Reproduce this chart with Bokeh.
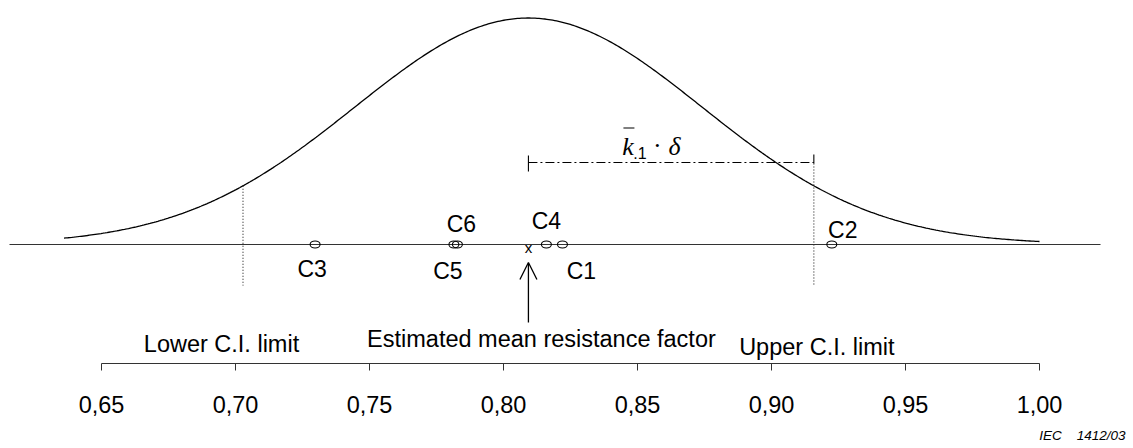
import numpy as np
from bokeh.plotting import figure
from bokeh.models import (Range1d, FixedTicker, CustomJSTickFormatter, Arrow,
                          OpenHead, Title, ColumnDataSource)
from bokeh.core.properties import value
from bokeh.embed import file_html
from bokeh.resources import INLINE

# ---------------- data ----------------
specimens = ["C1", "C2", "C3", "C4", "C5", "C6"]
resistance_factors = [0.822, 0.9225, 0.7297, 0.816, 0.7815, 0.7828]
mean_factor = 0.8093
ci_lower = 0.7028
ci_upper = 0.9158
sigma = 0.0648
curve_start = 0.636
curve_end = 1.0
tick_values = [0.65, 0.70, 0.75, 0.80, 0.85, 0.90, 0.95, 1.00]

# ---------------- layout constants (pixels) ----------------
PX = 1.0 / 2680.0          # data units per pixel along x
PEAK = 226.5               # curve peak height above the base line, px
label_dx = [19, 11, -3, 0, -6, 4]
label_dy = [-26, 15, -24, 24, -26, 20.5]

FONT = value("Liberation Sans")
SERIF = value("Liberation Serif")

p = figure(frame_width=1133, frame_height=363, min_border=0,
           x_range=Range1d(0.65 - 101 * PX, 0.65 + 1032 * PX),
           y_range=Range1d(-119, 244),
           y_axis_location=None, title_location=None,
           toolbar_location=None, output_backend="svg")
p.grid.visible = False
p.outline_line_color = None
p.background_fill_color = "white"
p.border_fill_color = "white"

# axis
ax = p.xaxis[0]
ax.ticker = FixedTicker(ticks=tick_values, minor_ticks=[])
ax.formatter = CustomJSTickFormatter(code="return tick.toFixed(2).replace('.', ',');")
ax.bounds = (tick_values[0], tick_values[-1])
ax.axis_line_color = "#333333"
ax.axis_line_width = 1.2
ax.major_tick_line_color = "#333333"
ax.major_tick_in = 0
ax.major_tick_out = 7
ax.major_label_standoff = 25
ax.major_label_text_font = "Liberation Sans"
ax.major_label_text_font_size = "23.5px"
ax.major_label_text_color = "black"

# base line
p.line([0.65 - 92 * PX, 0.65 + 999 * PX], [0, 0], line_color="#333333", line_width=1.2)

# normal curve
xs = np.linspace(curve_start, curve_end, 500)
ys = PEAK * np.exp(-0.5 * ((xs - mean_factor) / sigma) ** 2)
p.line(xs, ys, line_color="black", line_width=1.3)

# confidence limits (dotted)
y_low = PEAK * np.exp(-0.5 * ((ci_lower - mean_factor) / sigma) ** 2)
p.line([ci_lower, ci_lower], [y_low, -41], line_color="#333333", line_width=1.2, line_dash="1 2")
p.line([ci_upper, ci_upper], [81, -41], line_color="#333333", line_width=1.2, line_dash="1 2")

# k.1 * delta dimension line
p.line([mean_factor, ci_upper], [82, 82], line_color="black", line_width=1.1, line_dash="9 3 2 3")
p.line([mean_factor, mean_factor], [89, 73], line_color="black", line_width=1.1)
p.line([ci_upper, ci_upper], [90, 81], line_color="black", line_width=1.1)

p.text(x=[mean_factor + 99.5 * PX], y=[98], text=["k"], text_font=SERIF,
       text_font_style="italic", text_font_size="26px", text_align="center",
       text_baseline="middle", text_color="black")
p.line([mean_factor + 95 * PX, mean_factor + 106 * PX], [116.5, 116.5], line_color="black", line_width=1.1)
p.text(x=[mean_factor + 111.5 * PX], y=[91.6], text=[".1"], text_font=FONT,
       text_font_size="16px", text_align="center", text_baseline="middle",
       text_color="black")
p.text(x=[mean_factor + 129 * PX], y=[98.6], text=["\u00b7"], text_font=SERIF,
       text_font_size="26px", text_align="center", text_baseline="middle",
       text_color="black")
p.text(x=[mean_factor + 146 * PX], y=[98], text=["\u03b4"], text_font=SERIF,
       text_font_style="italic", text_font_size="26px", text_align="center",
       text_baseline="middle", text_color="black")

# specimen points
src = ColumnDataSource(dict(
    x=resistance_factors,
    y=[0] * len(resistance_factors),
    name=specimens,
    lx=[v + d * PX for v, d in zip(resistance_factors, label_dx)],
    ly=label_dy,
))
p.ellipse(x="x", y="y", width=10, height=7, width_units="screen", height_units="screen",
          fill_color=None, line_color="black", line_width=1.1, source=src)
p.text(x="lx", y="ly", text="name", text_font=FONT, text_font_size="23px",
       text_align="center", text_baseline="middle", text_color="black", source=src)

# estimated mean marker and arrow
p.text(x=[mean_factor], y=[-3.3], text=["x"], text_font=FONT, text_font_size="15px",
       text_align="center", text_baseline="middle", text_color="black")
p.add_layout(Arrow(x_start=mean_factor, y_start=-78, x_end=mean_factor, y_end=-18,
                   line_color="black", line_width=1.3,
                   end=OpenHead(size=17, line_color="black", line_width=1.3)))

# labels
p.text(x=[ci_lower - 21.5 * PX], y=[-99], text=["Lower C.I. limit"], text_font=FONT,
       text_font_size="23.5px", text_align="center", text_baseline="middle", text_color="black")
p.text(x=[mean_factor + 13 * PX], y=[-94], text=["Estimated mean resistance factor"],
       text_font=FONT, text_font_size="23.5px", text_align="center",
       text_baseline="middle", text_color="black")
p.text(x=[ci_upper + 3 * PX], y=[-102], text=["Upper C.I. limit"], text_font=FONT,
       text_font_size="23.5px", text_align="center", text_baseline="middle", text_color="black")

p.add_layout(Title(text="IEC\u00a0\u00a0\u00a0\u00a01412/03", align="right",
                   text_font="Liberation Sans", text_font_style="italic",
                   text_font_size="13.5px", text_color="black", standoff=21, offset=8), "below")

open("out.html", "w").write(file_html(p, INLINE))
